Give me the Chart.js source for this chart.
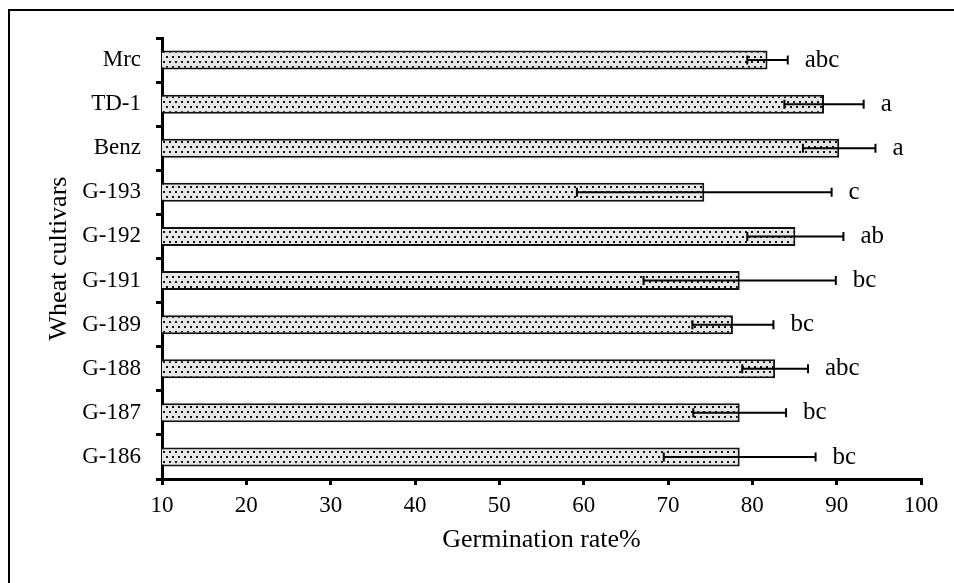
<!DOCTYPE html>
<html>
<head>
<meta charset="utf-8">
<script src="https://cdn.jsdelivr.net/npm/chart.js@4.4.1/dist/chart.umd.min.js"></script>
<style>
  body { margin: 0; background: #fff; }
  canvas { display: block; }
</style>
</head>
<body>
<canvas id="chart1" width="954" height="583"></canvas>
<script>
// germination data per cultivar (top to bottom)
const cultivars = ['Mrc', 'TD-1', 'Benz', 'G-193', 'G-192', 'G-191', 'G-189', 'G-188', 'G-187', 'G-186'];
const germination = [81.8, 88.5, 90.3, 74.3, 85.1, 78.5, 77.7, 82.7, 78.5, 78.5];
const errors = [2.4, 4.7, 4.3, 15.1, 5.7, 11.4, 4.8, 3.9, 5.5, 9.0];
const letters = ['abc', 'a', 'a', 'c', 'ab', 'bc', 'bc', 'abc', 'bc', 'bc'];
const xTicks = [10, 20, 30, 40, 50, 60, 70, 80, 90, 100];

const serif = "'Liberation Serif', 'Times New Roman', serif";

function dotPattern() {
    let c = document.createElement('canvas');
    c.width = 6; c.height = 10;
    let g = c.getContext('2d');
    g.fillStyle = '#e6e6e6';
    g.fillRect(0, 0, 6, 10);
    g.fillStyle = '#111';
    g.fillRect(1, 1, 2, 2);
    g.fillRect(4, 6, 2, 2);
    return g.createPattern(c, 'repeat');
}

// error bars + significance letters
const errorBars = {
    id: 'errorBars',
    beforeDraw(chart) {
        let ctx = chart.ctx;
        ctx.save();
        ctx.strokeStyle = '#000';
        ctx.lineWidth = 2;
        ctx.beginPath();
        ctx.moveTo(9, 2000);
        ctx.lineTo(9, 10);
        ctx.lineTo(2000, 10);
        ctx.stroke();
        ctx.restore();
    },
    afterDatasetsDraw(chart) {
        let ctx = chart.ctx;
        let xs = chart.scales.x, ys = chart.scales.y;
        ctx.save();
        ctx.strokeStyle = '#000';
        ctx.lineWidth = 2;
        ctx.fillStyle = '#000';
        ctx.font = '25px ' + serif;
        ctx.textBaseline = 'middle';
        germination.forEach((v, i) => {
            let y = ys.getPixelForValue(i);
            let x1 = xs.getPixelForValue(v - errors[i]);
            let x2 = xs.getPixelForValue(v + errors[i]);
            ctx.beginPath();
            ctx.moveTo(x1, y); ctx.lineTo(x2, y);
            ctx.moveTo(x1, y - 4.5); ctx.lineTo(x1, y + 4.5);
            ctx.moveTo(x2, y - 4.5); ctx.lineTo(x2, y + 4.5);
            ctx.stroke();
            ctx.fillText(letters[i], x2 + 17, y);
        });
        ctx.restore();
    }
};

window.onload = function () {

    let chart1 = document.getElementById('chart1').getContext('2d');

    let barChart = new Chart(chart1, {
        type: 'bar',
        data: {
            labels: cultivars,
            datasets: [{
                data: germination,
                backgroundColor: dotPattern(),
                borderColor: '#111',
                borderWidth: 2,
                barPercentage: 0.43,
                categoryPercentage: 1
            }]
        },
        options: {
            indexAxis: 'y',
            responsive: false,
            animation: false,
            layout: { padding: { top: 38, right: 33, left: 0, bottom: 0 } },
            plugins: { legend: { display: false }, tooltip: { enabled: false } },
            scales: {
                x: {
                    min: 10,
                    max: 100,
                    afterFit: s => { s.height = 104; },
                    afterBuildTicks: s => { s.ticks = xTicks.map(v => ({ value: v })); },
                    border: { color: '#000', width: 3 },
                    grid: { drawOnChartArea: false, color: '#000', lineWidth: 3, tickLength: 6 },
                    ticks: { color: '#000', padding: 7, font: { family: serif, size: 23 } },
                    title: {
                        display: true, text: 'Germination rate%', color: '#000',
                        font: { family: serif, size: 26 }, padding: { top: 0, bottom: 27 }
                    }
                },
                y: {
                    afterFit: s => { s.width = 162; },
                    border: { color: '#000', width: 3 },
                    grid: { drawOnChartArea: false, color: '#000', lineWidth: 3, tickLength: 6 },
                    ticks: { color: '#000', padding: 15, font: { family: serif, size: 23 } },
                    title: {
                        display: true, text: 'Wheat cultivars', color: '#000',
                        font: { family: serif, size: 26 }, padding: { top: 44, bottom: 0 }
                    }
                }
            }
        },
        plugins: [errorBars]
    });
}
</script>
</body>
</html>
